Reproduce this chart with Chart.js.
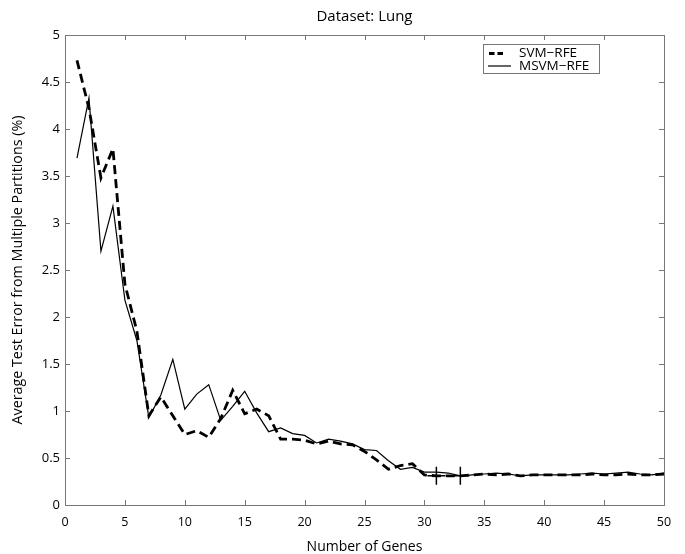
<!DOCTYPE html>
<html><head><meta charset="utf-8">
<script src="https://cdn.jsdelivr.net/npm/chart.js@4/dist/chart.umd.min.js"></script>
<style>html,body{margin:0;padding:0;background:#fff}#wrap{width:685px;height:554px;position:relative}</style>
</head><body><div id="wrap"><canvas id="c" width="685" height="554"></canvas></div>
<script>
const chartTitle = "Dataset: Lung";
const xTitle = "Number of Genes";
const yTitle = "Average Test Error from Multiple Partitions (%)";
const seriesNames = ["SVM\u2212RFE", "MSVM\u2212RFE"];
const genes = [1,2,3,4,5,6,7,8,9,10,11,12,13,14,15,16,17,18,19,20,21,22,23,24,25,26,27,28,29,30,31,32,33,34,35,36,37,38,39,40,41,42,43,44,45,46,47,48,49,50];
const svmRfe = [4.73,4.22,3.48,3.79,2.35,1.85,0.95,1.15,0.95,0.75,0.79,0.72,0.92,1.22,0.97,1.02,0.95,0.70,0.70,0.69,0.65,0.68,0.65,0.64,0.57,0.48,0.38,0.42,0.44,0.32,0.31,0.31,0.31,0.32,0.33,0.32,0.33,0.31,0.32,0.32,0.32,0.32,0.32,0.33,0.32,0.32,0.33,0.32,0.32,0.33];
const msvmRfe = [3.69,4.33,2.70,3.18,2.18,1.75,0.93,1.17,1.55,1.02,1.18,1.28,0.90,1.05,1.21,0.98,0.78,0.82,0.76,0.74,0.66,0.70,0.68,0.65,0.59,0.58,0.47,0.38,0.40,0.35,0.35,0.34,0.31,0.32,0.33,0.34,0.33,0.31,0.32,0.32,0.32,0.32,0.33,0.34,0.33,0.34,0.35,0.33,0.32,0.34];
const markerGenes = [31, 33];
const markerValues = [0.31, 0.31];
const xTickValues = [0,5,10,15,20,25,30,35,40,45,50];
const yTickValues = [0,0.5,1,1.5,2,2.5,3,3.5,4,4.5,5];

const FONT = "'Open Sans', 'Noto Sans', sans-serif";
const BOX = '#777';

const boxPlugin = {
  id: 'boxPlugin',
  afterDatasetsDraw(chart) {
    const {ctx, chartArea: a, scales: {x, y}} = chart;
    ctx.save();
    ctx.strokeStyle = BOX;
    ctx.lineWidth = 1;
    ctx.strokeRect(Math.round(a.left) + 0.5, Math.round(a.top) + 0.5, Math.round(a.right - a.left), Math.round(a.bottom - a.top));
    const L = 5;
    ctx.beginPath();
    xTickValues.forEach(v => {
      const px = Math.round(x.getPixelForValue(v)) + 0.5;
      ctx.moveTo(px, a.bottom); ctx.lineTo(px, a.bottom - L);
      ctx.moveTo(px, a.top); ctx.lineTo(px, a.top + L);
    });
    yTickValues.forEach(v => {
      const py = Math.round(y.getPixelForValue(v)) + 0.5;
      ctx.moveTo(a.left, py); ctx.lineTo(a.left + L, py);
      ctx.moveTo(a.right, py); ctx.lineTo(a.right - L, py);
    });
    ctx.stroke();
    // title centred over the plot box
    ctx.fillStyle = '#000';
    ctx.font = "15px " + FONT;
    ctx.textAlign = 'center';
    ctx.textBaseline = 'middle';
    ctx.fillText(chartTitle, (a.left + a.right) / 2, 17);
    // legend
    const lx = 483.5, ly = 44.5, lw = 116, lh = 29;
    ctx.fillStyle = '#fff';
    ctx.fillRect(lx, ly, lw, lh);
    ctx.strokeStyle = BOX;
    ctx.lineWidth = 1;
    ctx.strokeRect(lx, ly, lw, lh);
    ctx.strokeStyle = '#000';
    ctx.lineWidth = 3;
    ctx.beginPath();
    ctx.moveTo(489, 53.5); ctx.lineTo(494.5, 53.5);
    ctx.moveTo(497.5, 53.5); ctx.lineTo(503, 53.5);
    ctx.stroke();
    ctx.lineWidth = 1.2;
    ctx.beginPath();
    ctx.moveTo(488, 66); ctx.lineTo(511, 66);
    ctx.stroke();
    ctx.fillStyle = '#000';
    ctx.font = "13.5px " + FONT;
    ctx.textBaseline = 'middle';
    ctx.textAlign = 'left';
    ctx.fillText(seriesNames[0], 519, 53.5);
    ctx.fillText(seriesNames[1], 519, 66);
    ctx.restore();
  }
};

new Chart(document.getElementById('c'), {
  type: 'line',
  data: {
    datasets: [
      { label: seriesNames[0], data: genes.map((g, i) => ({x: g, y: svmRfe[i]})), borderColor: '#000', borderWidth: 2.8, borderDash: [9, 5], pointRadius: 0, tension: 0, fill: false },
      { label: seriesNames[1], data: genes.map((g, i) => ({x: g, y: msvmRfe[i]})), borderColor: '#000', borderWidth: 1.2, pointRadius: 0, tension: 0, fill: false },
      { type: 'scatter', label: 'markers', data: markerGenes.map((g, i) => ({x: g, y: markerValues[i]})), pointStyle: 'cross', pointRadius: 9, borderColor: '#000', borderWidth: 1.5, showLine: false }
    ]
  },
  options: {
    responsive: false,
    animation: false,
    devicePixelRatio: 1,
    layout: { padding: { left: 0, right: 21, top: 35, bottom: 0 } },
    plugins: {
      legend: { display: false },
      tooltip: { enabled: false },
      title: { display: false }
    },
    scales: {
      x: {
        type: 'linear', min: 0, max: 50,
        afterFit: s => { s.height = 49; },
        afterBuildTicks: s => { s.ticks = xTickValues.map(v => ({value: v})); },
        grid: { display: false, drawTicks: false },
        border: { display: false },
        ticks: { color: '#000', font: { family: FONT, size: 12.5 }, padding: 10, maxRotation: 0, callback: v => String(v) },
        title: { display: true, text: xTitle, color: '#000', font: { family: FONT, size: 14, lineHeight: 1 }, padding: { top: 0, bottom: 0 } }
      },
      y: {
        type: 'linear', min: 0, max: 5,
        afterFit: s => { s.width = 65; },
        afterBuildTicks: s => { s.ticks = yTickValues.map(v => ({value: v})); },
        grid: { display: false, drawTicks: false },
        border: { display: false },
        ticks: { color: '#000', font: { family: FONT, size: 13 }, padding: 5, callback: v => String(v) },
        title: { display: true, text: yTitle, color: '#000', font: { family: FONT, size: 14.3 }, padding: { top: 9, bottom: 0 } }
      }
    }
  },
  plugins: [boxPlugin]
});
</script>
</body></html>
